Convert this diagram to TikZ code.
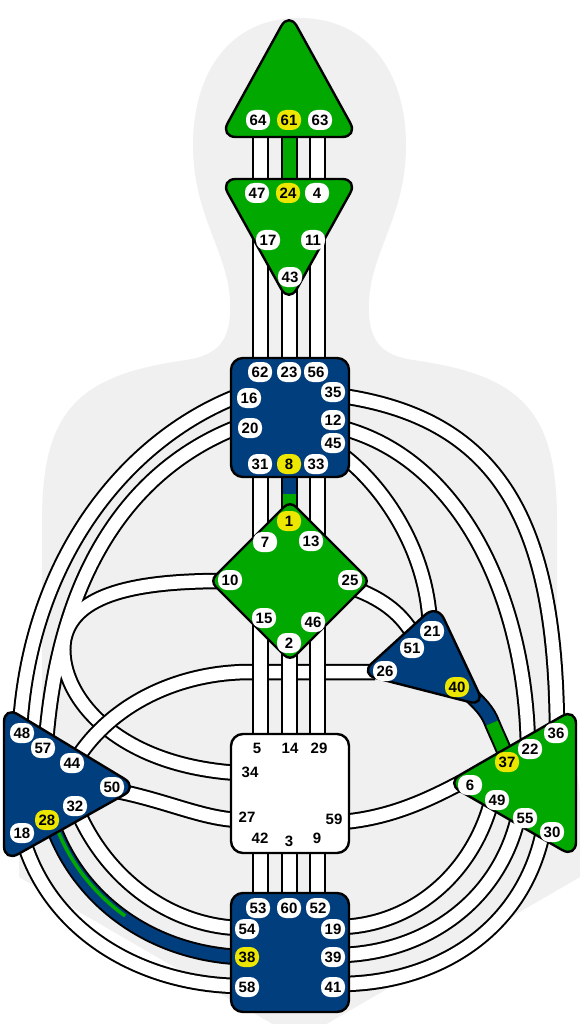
\documentclass[tikz,border=0pt]{standalone}
\usepackage{fontspec}
\setmainfont{Liberation Sans}
\definecolor{hdgreen}{RGB}{0,168,0}
\definecolor{hdblue}{RGB}{0,62,126}
\definecolor{hdyellow}{RGB}{236,230,0}
\definecolor{hdgray}{RGB}{240,240,240}
\tikzset{
  chcase/.style={line width=16.5pt, draw=black},
  chfill/.style={line width=12.5pt, draw=white},
  chan/.style={line width=2pt, draw=black, double=white, double distance=12.5pt},
  chang/.style={chan, double=hdgreen},
  chanb/.style={chan, double=hdblue},
  centre/.style={draw=black, line width=2.4pt, rounded corners=16pt, line join=round},
  gate/.style={fill=white, rounded corners=9pt, minimum width=24pt, minimum height=20pt, inner sep=1pt, font=\fontsize{15}{15}\selectfont\bfseries},
  gatey/.style={gate, fill=hdyellow},
  sgate/.style={inner sep=0pt, font=\fontsize{15}{15}\selectfont\bfseries},
}
\begin{document}
\begin{tikzpicture}[x=1pt,y=-1pt]
\useasboundingbox (0,0) rectangle (588,1024);
\fill[white] (0,0) rectangle (588,1024);
% silhouette
\fill[hdgray] (299,18) .. controls (370,18) and (406,75) .. (406,145)
 .. controls (406,215) and (372,250) .. (369,300)
 .. controls (367,340) and (380,355) .. (413,360)
 .. controls (520,375) and (557,410) .. (557,520)
 -- (557,700) .. controls (557,740) and (580,760) .. (580,800)
 -- (580,877) -- (326.5,1024) -- (272.5,1024) -- (19,877) -- (19,800)
 .. controls (19,760) and (42,740) .. (42,700) -- (42,520)
 .. controls (42,410) and (79,375) .. (186,360)
 .. controls (219,355) and (232,340) .. (230,300)
 .. controls (227,250) and (193,215) .. (193,145)
 .. controls (193,75) and (228,18) .. (299,18) -- cycle;

% channel end points
\coordinate (e16) at (238,396);
\coordinate (e48) at (20,728);
\coordinate (e20) at (238,427);
\coordinate (e57) at (46,742);
\coordinate (e10) at (222,581);
\coordinate (jn) at (64,640);
\coordinate (e34) at (238,773);
\coordinate (e26) at (375,672);
\coordinate (e44) at (76,760);
\coordinate (e50) at (112,790);
\coordinate (e27) at (238,820);
\coordinate (e59) at (342,822);
\coordinate (e6) at (462,782);
\coordinate (e25) at (358,590);
\coordinate (e51) at (414,636);
\coordinate (e45) at (342,455);
\coordinate (e21) at (430,628);
\coordinate (e35) at (342,396);
\coordinate (e36) at (557,732);
\coordinate (e12) at (342,428);
\coordinate (e22) at (528,748);
\coordinate (e32) at (78,812);
\coordinate (e54) at (238,928);
\coordinate (e28) at (53,826);
\coordinate (e38) at (238,957);
\coordinate (e18) at (24,842);
\coordinate (e58) at (238,986);
\coordinate (e49) at (491,803);
\coordinate (e19) at (342,927);
\coordinate (e55) at (518,818);
\coordinate (e39) at (342,955);
\coordinate (e30) at (543,832);
\coordinate (e41) at (342,984);
\coordinate (e40) at (465,690);
\coordinate (m40) at (492,723);
\coordinate (e37) at (507,758);

% left integration group (merged)
\draw[chcase] (e16) .. controls (125,440) and (30,560) .. (e48);
\draw[chcase] (e20) .. controls (140,465) and (60,560) .. (e57);
\draw[chcase] (e10) .. controls (125,581) and (72,598) .. (jn) .. controls (56,690) and (110,765) .. (e34);
\draw[chfill] (e16) .. controls (125,440) and (30,560) .. (e48);
\draw[chfill] (e20) .. controls (140,465) and (60,560) .. (e57);
\draw[chfill] (e10) .. controls (125,581) and (72,598) .. (jn) .. controls (56,690) and (110,765) .. (e34);

% 26-44
\draw[chan] (e26) -- (250,672) .. controls (180,672) and (112,703) .. (e44);
% other channels
\draw[chan] (e50) .. controls (165,800) and (200,818) .. (e27);
\draw[chan] (e59) .. controls (390,818) and (428,800) .. (e6);
\draw[chan] (e25) .. controls (383,600) and (402,614) .. (e51);
\draw[chan] (e45) .. controls (382,485) and (428,550) .. (e21);
\draw[chan] (e35) .. controls (505,420) and (556,530) .. (e36);
\draw[chan] (e12) .. controls (462,460) and (526,600) .. (e22);
\draw[chan] (e32) .. controls (108,880) and (170,925) .. (e54);
\draw[chanb] (e28) .. controls (80,900) and (150,952) .. (e38);
\draw[line width=3.5pt, hdgreen] (55.5,824.5) .. controls (69,861.5) and (93.25,893) .. (125.1,915.9);
\draw[chan] (e18) .. controls (52,932) and (140,984) .. (e58);
\draw[chan] (e49) .. controls (472,872) and (415,924) .. (e19);
\draw[chan] (e55) .. controls (498,902) and (425,952) .. (e39);
\draw[chan] (e30) .. controls (522,932) and (435,983) .. (e41);
% 40-37
\draw[chcase] (e40) .. controls (480,703) and (488,712) .. (m40) .. controls (497,735) and (502,745) .. (e37);
\draw[line width=12.5pt, hdblue] (e40) .. controls (480,703) and (488,712) .. (m40);
\draw[line width=12.5pt, hdgreen] (m40) .. controls (497,735) and (502,745) .. (e37);

% vertical columns
\draw[chan] (260.5,130) -- (260.5,186);
\draw[chang] (289.5,130) -- (289.5,186);
\draw[chan] (317.5,130) -- (317.5,186);
\draw[chan] (260.5,225) -- (260.5,365);
\draw[chan] (289.5,280) -- (289.5,365);
\draw[chan] (317.5,225) -- (317.5,365);
\draw[chan] (260.5,470) -- (260.5,560);
\draw[chcase] (289.5,470) -- (289.5,520);
\draw[line width=12.5pt, hdblue] (289.5,470) -- (289.5,494);
\draw[line width=12.5pt, hdgreen] (289.5,494) -- (289.5,520);
\draw[chan] (317.5,470) -- (317.5,560);
\draw[chan] (260.5,600) -- (260.5,740);
\draw[chan] (289.5,640) -- (289.5,740);
\draw[chan] (317.5,600) -- (317.5,740);
\draw[chan] (260.5,846) -- (260.5,900);
\draw[chan] (289.5,846) -- (289.5,900);
\draw[chan] (317.5,846) -- (317.5,900);

% centres
\draw[centre, fill=hdgreen] (289,137) -- (220,137) -- (289,12) -- (358,137) -- cycle;
\draw[centre, fill=hdgreen] (289,179) -- (358,179) -- (289,303) -- (220,179) -- cycle;
\draw[centre, rounded corners=12pt, fill=hdblue] (231,358) rectangle (349,477);
\draw[centre, rounded corners=8pt, fill=hdgreen] (250,541) -- (290,501) -- (370,581) -- (290,661) -- (210,581) -- cycle;
\draw[centre, fill=hdblue] (398.5,639) -- (437,604) -- (485,706) -- (360,674) -- cycle;
\draw[centre, fill=hdgreen] (576,783) -- (576,858) -- (446,783) -- (576,708) -- cycle;
\draw[centre, fill=hdblue] (4,784) -- (4,706) -- (138,787) -- (4,862) -- cycle;
\draw[centre, rounded corners=12pt, fill=white] (231,734) rectangle (349,853);
\draw[centre, rounded corners=12pt, fill=hdblue] (231,893) rectangle (349,1012);

% gates: head
\node[gate] (g64) at (258,120) {64};
\node[gatey] (g61) at (289,120) {61};
\node[gate] (g63) at (320,120) {63};
% ajna
\node[gate] (g47) at (257,193) {47};
\node[gatey] (g24) at (288,193) {24};
\node[gate] (g4) at (317,193) {4};
\node[gate] (g17) at (268,240) {17};
\node[gate] (g11) at (313,240) {11};
\node[gate] (g43) at (290,277) {43};
% throat
\node[gate] (g62) at (260,372) {62};
\node[gate] (g23) at (289,372) {23};
\node[gate] (g56) at (316,372) {56};
\node[gate] (g16) at (249,398) {16};
\node[gate] (g35) at (333,392) {35};
\node[gate] (g20) at (250,428) {20};
\node[gate] (g12) at (333,420) {12};
\node[gate] (g45) at (333,443) {45};
\node[gate] (g31) at (260,464) {31};
\node[gatey] (g8) at (289,464) {8};
\node[gate] (g33) at (316,464) {33};
% G
\node[gatey] (g1) at (289,521) {1};
\node[gate] (g7) at (265,542) {7};
\node[gate] (g13) at (311,541) {13};
\node[gate] (g10) at (230,580) {10};
\node[gate] (g25) at (350,580) {25};
\node[gate] (g15) at (264,618) {15};
\node[gate] (g46) at (313,622) {46};
\node[gate] (g2) at (289,643) {2};
% heart
\node[gate] (g21) at (432,631) {21};
\node[gate] (g51) at (412,648) {51};
\node[gate] (g26) at (385,671) {26};
\node[gatey] (g40) at (457,687) {40};
% solar plexus
\node[gate] (g36) at (556,733) {36};
\node[gate] (g22) at (530,749) {22};
\node[gatey] (g37) at (507,762) {37};
\node[gate] (g6) at (470,785) {6};
\node[gate] (g49) at (497,800) {49};
\node[gate] (g55) at (525,818) {55};
\node[gate] (g30) at (552,832) {30};
% spleen
\node[gate] (g48) at (22,733) {48};
\node[gate] (g57) at (43,748) {57};
\node[gate] (g44) at (72,763) {44};
\node[gate] (g50) at (112,787) {50};
\node[gate] (g32) at (75,806) {32};
\node[gatey] (g28) at (47,820) {28};
\node[gate] (g18) at (22,833) {18};
% sacral
\node[sgate] (g5) at (257,748) {5};
\node[sgate] (g14) at (290,748) {14};
\node[sgate] (g29) at (319,748) {29};
\node[sgate] (g34) at (250,772) {34};
\node[sgate] (g27) at (247,817) {27};
\node[sgate] (g59) at (334,819) {59};
\node[sgate] (g42) at (260,838) {42};
\node[sgate] (g3) at (289,841) {3};
\node[sgate] (g9) at (317,838) {9};
% root
\node[gate] (g53) at (258,908) {53};
\node[gate] (g60) at (289,908) {60};
\node[gate] (g52) at (318,908) {52};
\node[gate] (g54) at (247,929) {54};
\node[gate] (g19) at (333,929) {19};
\node[gatey] (g38) at (247,957) {38};
\node[gate] (g39) at (333,957) {39};
\node[gate] (g58) at (247,987) {58};
\node[gate] (g41) at (333,987) {41};
\end{tikzpicture}
\end{document}
